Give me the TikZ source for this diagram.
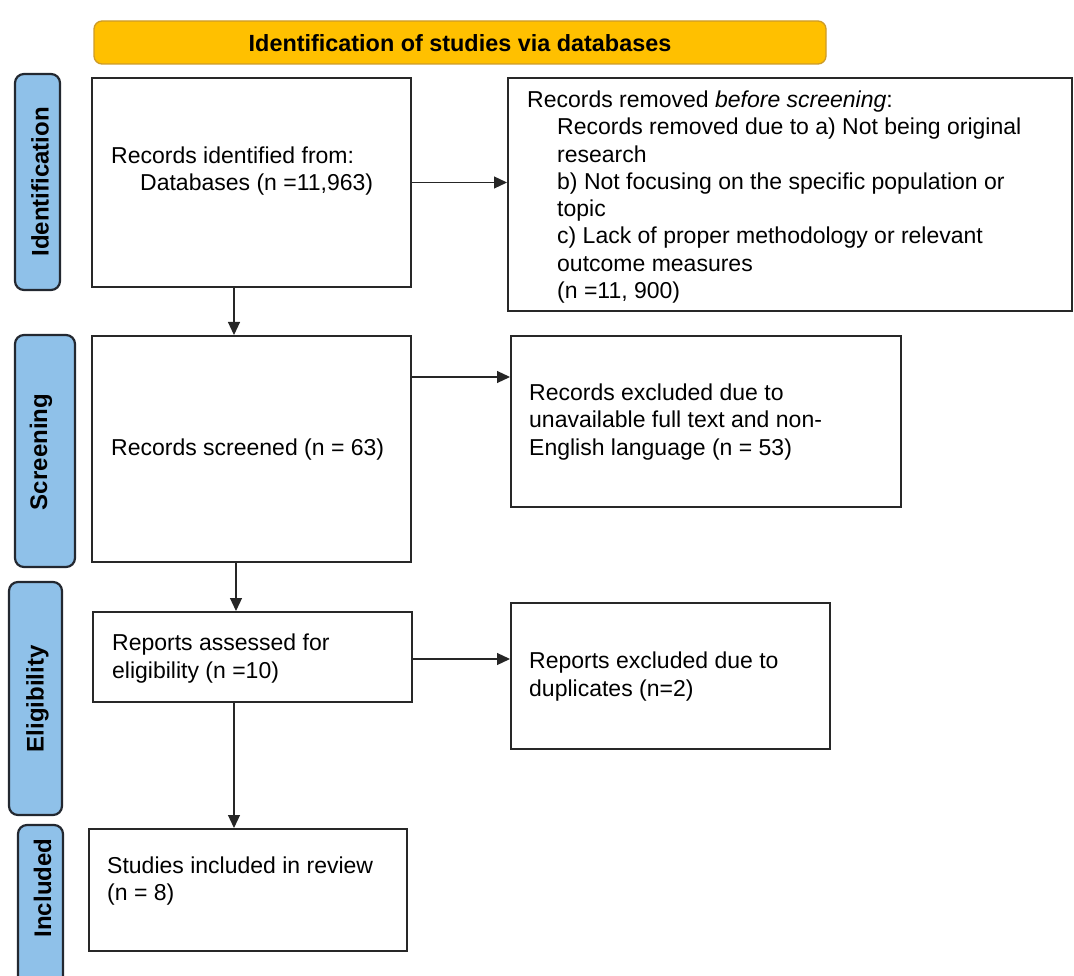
\documentclass[tikz,border=0pt]{standalone}
\usepackage{fontspec}
\setmainfont{Liberation Sans}
\usetikzlibrary{arrows.meta}
\definecolor{hdrfill}{RGB}{255,192,0}
\definecolor{hdrdraw}{RGB}{205,155,40}
\definecolor{lblfill}{RGB}{143,193,233}
\definecolor{lbldraw}{RGB}{35,40,48}
\definecolor{boxdraw}{RGB}{40,40,40}
\begin{document}
\begin{tikzpicture}[x=1pt,y=-1pt,
  box/.style={draw=boxdraw, line width=2pt, fill=white, inner sep=0pt},
  lbl/.style={draw=lbldraw, fill=lblfill, line width=2.2pt, rounded corners=9pt, inner sep=0pt},
  hdr/.style={draw=hdrdraw, fill=hdrfill, line width=1.3pt, rounded corners=8pt, inner sep=0pt},
  txt/.style={anchor=west, align=left, inner sep=0pt, font=\fontsize{23}{27.3}\selectfont},
  lbltxt/.style={inner sep=0pt, font=\fontsize{24}{28}\selectfont\bfseries},
  arr/.style={-{Triangle[length=13pt,width=12pt]}, line width=1.2pt, draw=black!85}]
\useasboundingbox (0,0) rectangle (1074,976);
\clip (0,0) rectangle (1074,976);
% header
\node[hdr, minimum width=732pt, minimum height=43pt] (hd) at (460,42.5) {};
\node[inner sep=0pt, font=\fontsize{23.4}{26}\selectfont\bfseries] (hdt) at (460,43) {Identification of studies via databases};
% side labels
\node[lbl, minimum width=45pt, minimum height=216pt] (L1) at (37.5,182) {};
\node[lbltxt] (L1t) at (40,182) {\rotatebox{90}{Identification}};
\node[lbl, minimum width=60pt, minimum height=232pt] (L2) at (45,451) {};
\node[lbltxt] (L2t) at (41,452) {\rotatebox{90}{Screening}};
\node[lbl, minimum width=53pt, minimum height=233pt] (L3) at (35.5,698.5) {};
\node[lbltxt] (L3t) at (37.5,699) {\rotatebox{90}{Eligibility}};
\node[lbl, minimum width=45pt, minimum height=190pt] (L4) at (40.5,920) {};
\node[lbltxt] (L4t) at (42.5,888) {\rotatebox{90}{Included}};
% main boxes
\node[box, minimum width=319pt, minimum height=209pt] (b1) at (251.5,182.5) {};
\node[box, minimum width=319pt, minimum height=226pt] (b2) at (251.5,449) {};
\node[box, minimum width=319pt, minimum height=90pt] (b3) at (252.5,657) {};
\node[box, minimum width=318pt, minimum height=122pt] (b4) at (248,890) {};
\node[box, minimum width=564pt, minimum height=233pt] (r1) at (790,194.5) {};
\node[box, minimum width=390pt, minimum height=171pt] (r2) at (706,421.5) {};
\node[box, minimum width=319pt, minimum height=146pt] (r3) at (670.5,676) {};
% texts
\node[txt] (t1) at (111,171) {Records identified from:\\\hspace*{29pt}Databases (n =11,963)};
\node[txt] (t2) at (111,450) {Records screened (n = 63)};
\node[txt] (t3) at (112,658.5) {Reports assessed for\\eligibility (n =10)};
\node[txt] (t4) at (107,881) {Studies included in review\\(n = 8)};
\node[txt] (s1) at (527,197) {Records removed \textit{before screening}:\\
\hspace*{30pt}Records removed due to a) Not being original\\
\hspace*{30pt}research\\
\hspace*{30pt}b) Not focusing on the specific population or\\
\hspace*{30pt}topic\\
\hspace*{30pt}c) Lack of proper methodology or relevant\\
\hspace*{30pt}outcome measures\\
\hspace*{30pt}(n =11, 900)};
\node[txt] (s2) at (529,422) {Records excluded due to\\unavailable full text and non-\\English language (n = 53)};
\node[txt] (s3) at (529,676.5) {Reports excluded due to\\duplicates (n=2)};
% connectors
\draw[arr] (b1.east) -- (b1.east -| r1.west);
\path ([yshift=-42pt]b2.north east) coordinate (h2);
\draw[arr] (h2) -- (h2 -| r2.west);
\path ([yshift=-48pt]b3.north east) coordinate (h3);
\draw[arr] (h3) -- (h3 -| r3.west);
\path ([xshift=-17.5pt]b1.south) coordinate (v1);
\draw[arr] (v1) -- (v1 |- b2.north);
\path ([xshift=-15.5pt]b2.south) coordinate (v2);
\draw[arr] (v2) -- (v2 |- b3.north);
\path ([xshift=-18.5pt]b3.south) coordinate (v3);
\draw[arr] (v3) -- (v3 |- b4.north);
\end{tikzpicture}
\end{document}
